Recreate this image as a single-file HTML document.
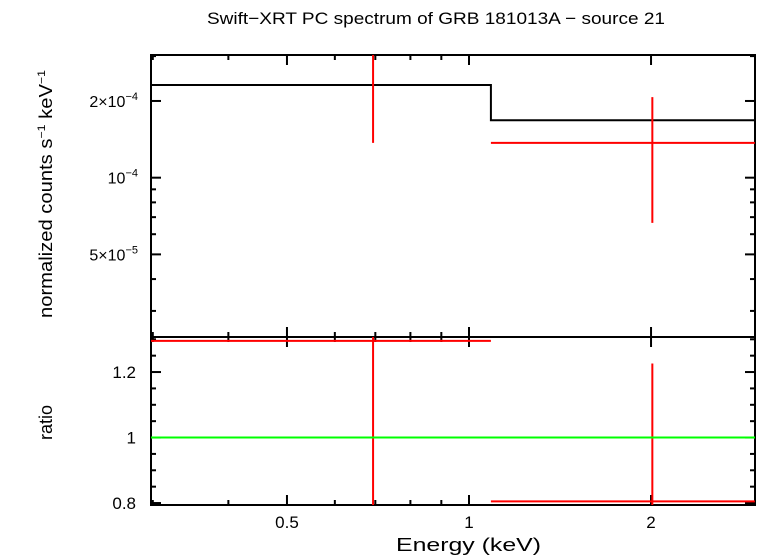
<!DOCTYPE html>
<html><head><meta charset="utf-8"><style>
body{margin:0;background:#fff;}
svg{display:block;font-family:"Liberation Sans",sans-serif;}
</style></head><body>
<svg id="c" width="758" height="556" viewBox="0 0 758 556">
<text x="207" y="24" font-size="17" textLength="458" lengthAdjust="spacingAndGlyphs">Swift−XRT PC spectrum of GRB 181013A − source 21</text>
<g id="g"></g>
<text x="396" y="551" font-size="18" textLength="145" lengthAdjust="spacingAndGlyphs">Energy (keV)</text>
<text transform="translate(52,318) rotate(-90)" font-size="18" textLength="248" lengthAdjust="spacingAndGlyphs">normalized counts s<tspan font-size="11" dy="-7">−1</tspan><tspan dy="7"> keV</tspan><tspan font-size="11" dy="-7">−1</tspan></text>
<text transform="translate(52,440) rotate(-90)" font-size="18">ratio</text>
</svg>
<script>
const binLo=[0.298,1.087];
const binHi=[1.087,2.97];
const binCenter=[0.694,2.01];
const modelVals=[2.31e-4,1.68e-4];
const dataVals=[3.1e-4,1.37e-4];
const dataErrLo=[1.37e-4,6.65e-5];
const dataErrHi=[4.0e-4,2.07e-4];
const ratioVals=[1.295,0.805];
const ratioErrLo=[0.6,0.5];
const ratioErrHi=[1.9,1.226];
const xTicks=[0.5,1,2];
const xTickLabels=["0.5","1","2"];
const xMinor=[0.3,0.4,0.6,0.7,0.8,0.9];
const yTopTicks=[2e-4,1e-4,5e-5];
const yRatioTicks=[0.8,1,1.2];
const yRatioLabels=["0.8","1","1.2"];

const L=151,R=755,T=55,M=337,B=505;
const X=v=>469+Math.log10(v)*604.7;
const YT=v=>T+(Math.log10(3.03e-4)-Math.log10(v))/(Math.log10(3.03e-4)-Math.log10(2.37e-5))*(M-T);
const YR=v=>M+(1.307-v)/(1.307-0.794)*(B-M);
const g=document.getElementById('g');
const NS='http://www.w3.org/2000/svg';
function el(t,a,name){const e=document.createElementNS(NS,t);for(const k in a)e.setAttribute(k,a[k]);


g.appendChild(e);return e;}
function ln(x1,y1,x2,y2,c,name,w){return el('line',{x1,y1,x2,y2,stroke:c,'stroke-width':w||2},name);}
const cl=(v,a,b)=>Math.max(a,Math.min(b,v));
el('rect',{x:L,y:T,width:R-L,height:M-T,fill:'none',stroke:'#000','stroke-width':2},'top-panel-frame');
el('rect',{x:L,y:M,width:R-L,height:B-M,fill:'none',stroke:'#000','stroke-width':2},'bottom-panel-frame');
xTicks.forEach((v,i)=>{const x=X(v);
 [[T,1],[M,-1],[M,1],[B,-1]].forEach(([y,d])=>ln(x,y,x,y+d*10,'#000','x-major-tick'));
 const t=el('text',{x:x,y:528,'font-size':17,'text-anchor':'middle'},'x-tick-label');t.textContent=xTickLabels[i];});
xMinor.forEach(v=>{const x=X(v);[[T,1],[M,-1],[M,1],[B,-1]].forEach(([y,d])=>ln(x,y,x,y+d*5,'#000','x-minor-tick'));});
const supLabels=[["2×10","−4"],["10","−4"],["5×10","−5"]];
yTopTicks.forEach((v,i)=>{const y=YT(v);ln(L,y,L+10,y,'#000','y-top-major-tick');ln(R,y,R-10,y,'#000','y-top-major-tick');
 const t=el('text',{x:138,y:y+6,'font-size':16,'text-anchor':'end'},'y-top-tick-label');
 t.innerHTML=supLabels[i][0]+'<tspan font-size="11" dy="-7">'+supLabels[i][1]+'</tspan>';});
[3e-4,9e-5,8e-5,7e-5,6e-5,4e-5,3e-5].forEach(v=>{const y=YT(v);ln(L,y,L+5,y,'#000','y-top-minor-tick');ln(R,y,R-5,y,'#000','y-top-minor-tick');});
yRatioTicks.forEach((v,i)=>{const y=YR(v);ln(L,y,L+10,y,'#000','y-ratio-major-tick');ln(R,y,R-10,y,'#000','y-ratio-major-tick');
 const t=el('text',{x:136,y:y+6,'font-size':17,'text-anchor':'end'},'y-ratio-tick-label');t.textContent=yRatioLabels[i];});
[0.9,1.1,1.3,0.85,0.95,1.05,1.15,1.25].forEach(v=>{const y=YR(v);if(y>M&&y<B){ln(L,y,L+5,y,'#000','y-ratio-minor-tick');ln(R,y,R-5,y,'#000','y-ratio-minor-tick');}});
let d='';binLo.forEach((lo,i)=>{const y=YT(modelVals[i]);d+=(i?'L':'M')+X(lo)+','+y+'L'+X(binHi[i])+','+y;});
el('path',{d,fill:'none',stroke:'#000','stroke-width':2},'model-line');
binLo.forEach((lo,i)=>{
 const yv=YT(dataVals[i]);
 if(yv>=T+2&&yv<=M)ln(X(lo),yv,X(binHi[i]),yv,'#f00','data-bin');
 ln(X(binCenter[i]),cl(YT(dataErrHi[i]),T,M),X(binCenter[i]),cl(YT(dataErrLo[i]),T,M),'#f00','data-error-bar');
 const yr=YR(ratioVals[i]);ln(X(lo),yr,X(binHi[i]),yr,'#f00','ratio-bin');
 ln(X(binCenter[i]),cl(YR(ratioErrHi[i]),M,B),X(binCenter[i]),cl(YR(ratioErrLo[i]),M,B),'#f00','ratio-error-bar');
});
ln(L,YR(1),R,YR(1),'#0f0','ratio-unity-line');
</script>
</body></html>
